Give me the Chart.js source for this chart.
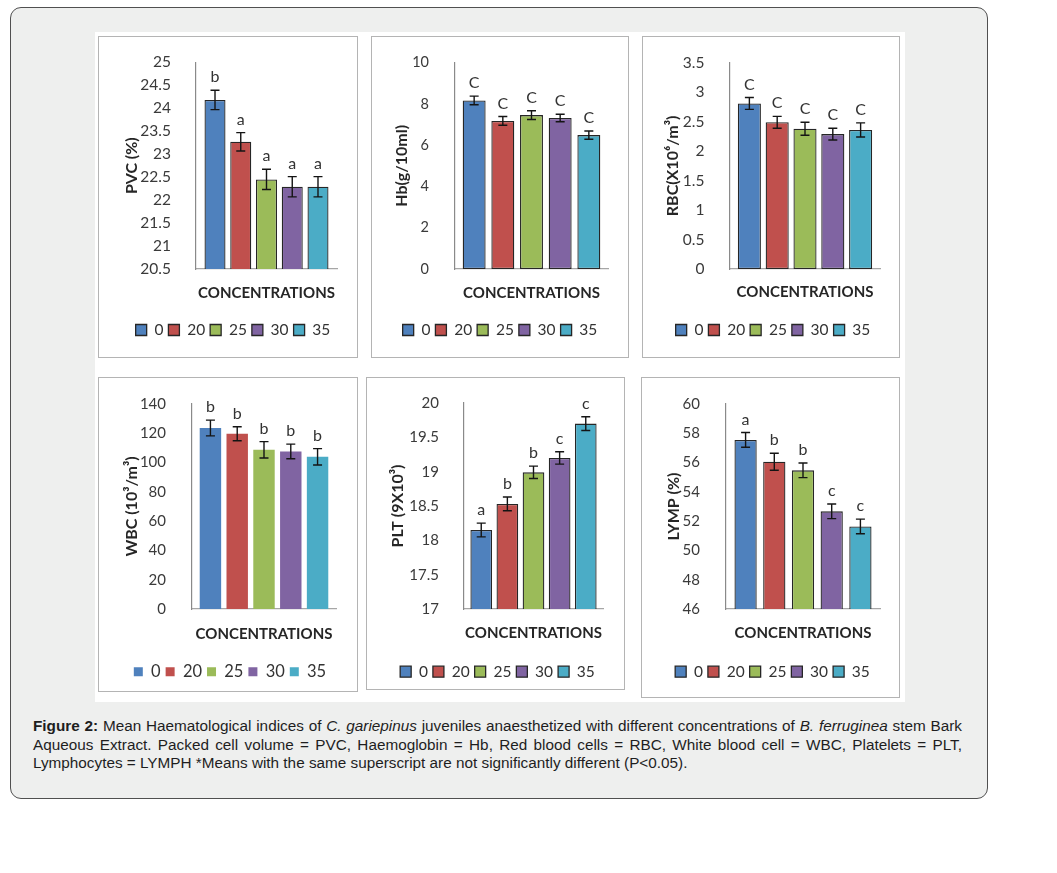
<!DOCTYPE html>
<html><head><meta charset="utf-8">
<script src="https://cdn.jsdelivr.net/npm/chart.js@4.4.1/dist/chart.umd.min.js"></script>
<style>
html,body{margin:0;padding:0;background:#fff;}
body{width:1057px;height:873px;position:relative;overflow:hidden;font-family:'Liberation Sans',Arial,sans-serif;}
#frame{position:absolute;left:10px;top:7px;width:976px;height:790px;border:1.5px solid #505050;border-radius:11px;background:#eeefee;}
#white{position:absolute;left:95px;top:32px;width:810px;height:670px;background:#fff;}
.panel{position:absolute;}
.panel canvas{position:absolute;left:0;top:0;}
.panel .bd{position:absolute;left:0;top:0;right:0;bottom:0;border:1px solid #b4b4b4;pointer-events:none;}
#caption{position:absolute;left:33px;top:717px;width:929px;font-size:15.3px;line-height:18.5px;color:#1e1e1e;}
#caption div{text-align:justify;text-align-last:justify;white-space:nowrap;}
#caption div.last{text-align:left;text-align-last:left;}
</style>
</head><body>
<div id="frame"></div>
<div id="white"></div>
<div id="panels"></div>
<div id="caption">
<div><b>Figure 2:</b> Mean Haematological indices of <i>C. gariepinus</i> juveniles anaesthetized with different concentrations of <i>B. ferruginea</i> stem Bark</div>
<div>Aqueous Extract. Packed cell volume = PVC, Haemoglobin = Hb, Red blood cells = RBC, White blood cell = WBC, Platelets = PLT,</div>
<div class="last">Lymphocytes = LYMPH *Means with the same superscript are not significantly different (P&lt;0.05).</div>
</div>
<script>
// ---------------- DATA ----------------
const seriesLabels = ['0', '20', '25', '30', '35'];
const categoryLabels = [''];
const xAxisTitle = 'CONCENTRATIONS';

const pvcTitle = 'PVC (%)';
const pvcAxis = [20.5, 25, 0.5];
const pvcMeans = [24.18, 23.27, 22.45, 22.29, 22.29];
const pvcErrors = [0.21, 0.2, 0.22, 0.22, 0.22];
const pvcLetters = ['b', 'a', 'a', 'a', 'a'];

const hbTitle = 'Hb(g/10ml)';
const hbAxis = [0, 10, 2];
const hbMeans = [8.17, 7.18, 7.46, 7.32, 6.49];
const hbErrors = [0.21, 0.21, 0.21, 0.18, 0.2];
const hbLetters = ['C', 'C', 'C', 'C', 'C'];

const rbcTitle = 'RBC(X10\u2076/m\u00B3)';
const rbcAxis = [0, 3.5, 0.5];
const rbcMeans = [2.81, 2.49, 2.38, 2.29, 2.36];
const rbcErrors = [0.1, 0.1, 0.11, 0.1, 0.12];
const rbcLetters = ['C', 'C', 'C', 'C', 'C'];

const wbcTitle = 'WBC (10\u00B3/m\u00B3)';
const wbcAxis = [0, 140, 20];
const wbcMeans = [123.6, 119.7, 108.7, 107.6, 103.9];
const wbcErrors = [5.4, 4.8, 5.6, 5.0, 5.6];
const wbcLetters = ['b', 'b', 'b', 'b', 'b'];

const pltTitle = 'PLT (9X10\u00B3)';
const pltAxis = [17, 20, 0.5];
const pltMeans = [18.15, 18.53, 18.99, 19.2, 19.7];
const pltErrors = [0.1, 0.1, 0.09, 0.09, 0.1];
const pltLetters = ['a', 'b', 'b', 'c', 'c'];

const lympTitle = 'LYMP (%)';
const lympAxis = [46, 60, 2];
const lympMeans = [57.55, 56.06, 55.47, 52.67, 51.64];
const lympErrors = [0.5, 0.58, 0.5, 0.5, 0.5];
const lympLetters = ['a', 'b', 'b', 'c', 'c'];

// ---------------- STYLE / LAYOUT ----------------
const barColors = ['#4F81BD', '#C0504D', '#9BBB59', '#8064A2', '#4BACC6'];
const FONT = 'Lato, "Open Sans", sans-serif';

const charts = [
  {means: pvcMeans, errors: pvcErrors, letters: pvcLetters, axis: pvcAxis, title: pvcTitle, bordered: true,
   box: [98, 36, 260, 322], area: [196, 57, 337, 269], legendCX: 233, yTitleX: 132, xTitleCY: 293, legendCY: 330,
   cat: 0.913, bar: 0.816, tickSize: 15.5, tickPad: 17, legendSize: 15.5},
  {means: hbMeans, errors: hbErrors, letters: hbLetters, axis: hbAxis, title: hbTitle, bordered: true,
   box: [371, 36, 258, 322], area: [455, 56, 608, 269], legendCX: 500, yTitleX: 402, xTitleCY: 293, legendCY: 330,
   cat: 0.937, bar: 0.80, tickSize: 14.5, tickPad: 18, legendSize: 15.5},
  {means: rbcMeans, errors: rbcErrors, letters: rbcLetters, axis: rbcAxis, title: rbcTitle, bordered: true,
   box: [642, 36, 258, 322], area: [730, 56, 880, 269], legendCX: 773, yTitleX: 673, xTitleCY: 292.5, legendCY: 330,
   cat: 0.927, bar: 0.83, tickSize: 15.5, tickPad: 17.5, legendSize: 15.5},
  {means: wbcMeans, errors: wbcErrors, letters: wbcLetters, axis: wbcAxis, title: wbcTitle, bordered: false,
   box: [98, 377, 260, 315], area: [192, 396, 336, 609], legendCX: 230, yTitleX: 132, xTitleCY: 634, legendCY: 671.7,
   cat: 0.93, bar: 0.80, tickSize: 15, tickPad: 18, legendSize: 16.5},
  {means: pltMeans, errors: pltErrors, letters: pltLetters, axis: pltAxis, title: pltTitle, bordered: true,
   box: [366, 377, 259, 313], area: [464, 396, 603, 609], legendCX: 497.5, yTitleX: 398, xTitleCY: 633.3, legendCY: 671.7,
   cat: 0.94, bar: 0.83, tickSize: 15, tickPad: 17, legendSize: 15.5},
  {means: lympMeans, errors: lympErrors, letters: lympLetters, axis: lympAxis, title: lympTitle, bordered: true,
   box: [641, 377, 259, 321], area: [726, 396, 880, 609], legendCX: 772.5, yTitleX: 674, xTitleCY: 633.3, legendCY: 671.7,
   cat: 0.932, bar: 0.775, tickSize: 15, tickPad: 18, legendSize: 15.5}
];

const errorBarPlugin = {
  id: 'errorBars',
  afterDatasetsDraw(chart, args, opts) {
    const ctx = chart.ctx;
    const y = chart.scales.y;
    ctx.save();
    ctx.strokeStyle = '#141414';
    ctx.lineWidth = 1.4;
    ctx.fillStyle = '#333333';
    ctx.font = '16px ' + FONT;
    ctx.textAlign = 'center';
    ctx.textBaseline = 'alphabetic';
    chart.data.datasets.forEach((ds, i) => {
      const bar = chart.getDatasetMeta(i).data[0];
      const v = ds.data[0], e = opts.errors[i];
      const yt = y.getPixelForValue(v + e), yb = y.getPixelForValue(v - e);
      const x = bar.x, cap = opts.cap;
      ctx.beginPath();
      ctx.moveTo(x, yt); ctx.lineTo(x, yb);
      ctx.moveTo(x - cap, yt); ctx.lineTo(x + cap, yt);
      ctx.moveTo(x - cap, yb); ctx.lineTo(x + cap, yb);
      ctx.stroke();
      ctx.fillText(opts.letters[i], x, yt - 8);
    });
    ctx.restore();
  }
};

const legendPad = 5;
const holder = document.getElementById('panels');

charts.forEach((c, idx) => {
  const [bx, by, W, H] = c.box;
  const div = document.createElement('div');
  div.className = 'panel';
  div.style.left = bx + 'px'; div.style.top = by + 'px';
  div.style.width = W + 'px'; div.style.height = H + 'px';
  const cv = document.createElement('canvas');
  cv.width = W; cv.height = H;
  cv.style.width = W + 'px'; cv.style.height = H + 'px';
  div.appendChild(cv);
  const bd = document.createElement('div'); bd.className = 'bd'; div.appendChild(bd);
  holder.appendChild(div);

  const legendFont = c.legendSize;
  const aL = c.area[0] - bx, aT = c.area[1] - by, aR = c.area[2] - bx, aB = c.area[3] - by;
  const padR = W - aR;
  const lc = c.legendCX - bx;
  const padL = 2 * lc - aR;
  const boxSize = c.bordered ? 11 : 9;
  const itemH = Math.max(legendFont, boxSize);
  const L = itemH + legendPad + 10;
  const legendTop = c.legendCY - by - legendPad - itemH / 2;
  const xH = legendTop - aB;
  const padB = H - legendTop - L;
  const xTitleSize = 15, xTitleLH = xTitleSize * 1.2;
  const xTitlePadB = legendTop - xTitleLH / 2 - (c.xTitleCY - by);
  const yTitleSize = 16, yTitleLH = yTitleSize * 1.2;
  const yTitlePad = (c.yTitleX - bx) - padL - yTitleLH / 2;

  const datasets = seriesLabels.map((lab, i) => ({
    label: lab,
    data: [c.means[i]],
    backgroundColor: barColors[i],
    borderColor: c.bordered ? '#262626' : barColors[i],
    borderWidth: c.bordered ? 1.3 : 0,
    borderSkipped: false,
    categoryPercentage: c.cat,
    barPercentage: c.bar
  }));

  new Chart(cv, {
    type: 'bar',
    data: {labels: categoryLabels, datasets},
    plugins: [errorBarPlugin],
    options: {
      responsive: false,
      animation: false,
      devicePixelRatio: window.devicePixelRatio || 1,
      layout: {padding: {left: padL, right: padR, top: aT, bottom: padB}},
      plugins: {
        legend: {
          position: 'bottom',
          labels: {
            boxWidth: boxSize, boxHeight: boxSize, padding: legendPad,
            color: '#333333', font: {family: FONT, size: legendFont}
          }
        },
        tooltip: {enabled: false},
        errorBars: {errors: c.errors, letters: c.letters, cap: 4.5}
      },
      scales: {
        x: {
          grid: {display: false},
          border: {display: true, color: '#a6a6a6', width: 1.2},
          ticks: {display: false},
          title: {display: true, text: xAxisTitle, color: '#262626',
                  font: {family: FONT, size: xTitleSize, weight: 'bold'},
                  padding: {top: 0, bottom: xTitlePadB}},
          afterFit: s => { s.height = xH; }
        },
        y: {
          min: c.axis[0], max: c.axis[1],
          grid: {display: false},
          border: {display: true, color: '#8a8a8a', width: 1.2},
          ticks: {stepSize: c.axis[2], padding: c.tickPad, color: '#3a3a3a', autoSkip: false,
                  font: {family: FONT, size: c.tickSize},
                  callback: v => String(Number(Number(v).toFixed(2)))},
          title: {display: true, text: c.title, color: '#262626',
                  font: {family: FONT, size: yTitleSize, weight: 'bold'},
                  padding: {top: yTitlePad, bottom: 0}},
          afterFit: s => { s.width = aL - padL; }
        }
      }
    }
  });
});
</script>
</body></html>
